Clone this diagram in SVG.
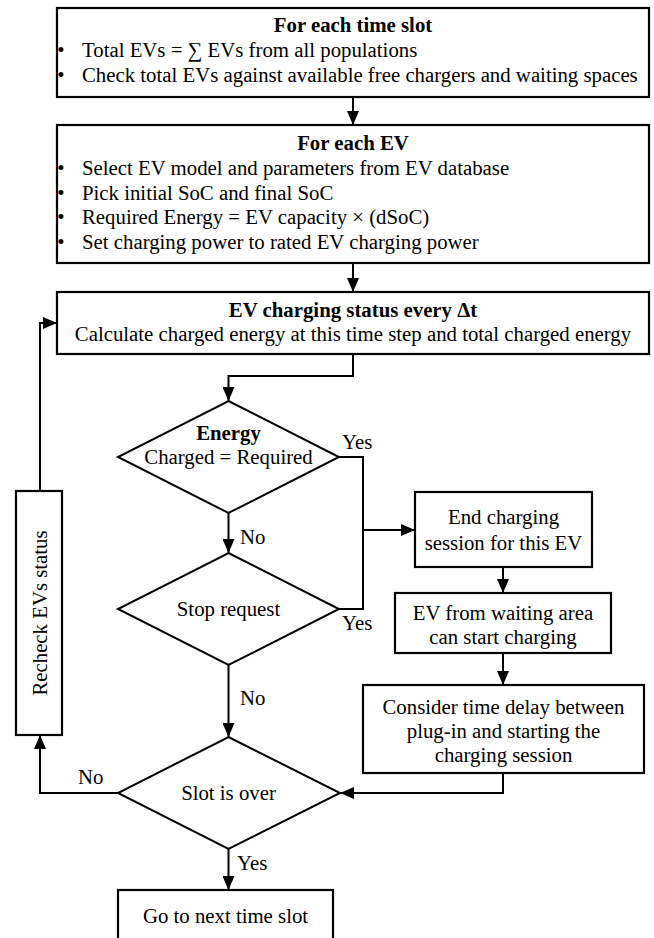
<svg xmlns="http://www.w3.org/2000/svg" width="654" height="938" viewBox="0 0 654 938">
<style>
.box{fill:#fff;stroke:#000;stroke-width:2.2}
.dia{fill:#fff;stroke:#000;stroke-width:2}
.ln{fill:none;stroke:#000;stroke-width:2}
text{font-family:"Liberation Serif","Times New Roman",serif;font-size:20.8px;fill:#000}
.c{text-anchor:middle}
.b{font-weight:bold}
</style>
<defs>
<marker id="ah" markerUnits="userSpaceOnUse" markerWidth="14" markerHeight="12" refX="14" refY="6" orient="auto">
<path d="M0,0 L14,6 L0,12 z" fill="#000"/>
</marker>
</defs>
<rect width="654" height="938" fill="#fff"/>
<g id="connectors">
<path class="ln" d="M353,97 V125" marker-end="url(#ah)"/>
<path class="ln" d="M353,263 V292" marker-end="url(#ah)"/>
<path class="ln" d="M353,354 V376 H228.5 V401" marker-end="url(#ah)"/>
<path class="ln" d="M339,457 H363 V609 H339"/>
<path class="ln" d="M363,530 H415" marker-end="url(#ah)"/>
<path class="ln" d="M228.5,513 V553" marker-end="url(#ah)"/>
<path class="ln" d="M228.5,665 V737" marker-end="url(#ah)"/>
<path class="ln" d="M503,567 V593" marker-end="url(#ah)"/>
<path class="ln" d="M503,653 V685" marker-end="url(#ah)"/>
<path class="ln" d="M503,773 V793 H340" marker-end="url(#ah)"/>
<path class="ln" d="M118,793 H40 V735" marker-end="url(#ah)"/>
<path class="ln" d="M40,491 V323 H57" marker-end="url(#ah)"/>
<path class="ln" d="M228.5,849 V890" marker-end="url(#ah)"/>
</g>
<g id="n1">
<rect class="box" x="57" y="8" width="592" height="89"/>
<text class="c b" x="353" y="32">For each time slot</text>
<text class="c" x="61" y="57">•</text>
<text x="82" y="57">Total EVs = ∑ EVs from all populations</text>
<text class="c" x="61" y="82">•</text>
<text x="82" y="82">Check total EVs against available free chargers and waiting spaces</text>
</g>
<g id="n2">
<rect class="box" x="57" y="125" width="592" height="138"/>
<text class="c b" x="353" y="150">For each EV</text>
<text class="c" x="61" y="175">•</text>
<text x="82" y="175">Select EV model and parameters from EV database</text>
<text class="c" x="61" y="200">•</text>
<text x="82" y="200">Pick initial SoC and final SoC</text>
<text class="c" x="61" y="224">•</text>
<text x="82" y="224">Required Energy = EV capacity × (dSoC)</text>
<text class="c" x="61" y="249">•</text>
<text x="82" y="249">Set charging power to rated EV charging power</text>
</g>
<g id="n3">
<rect class="box" x="57" y="292" width="592" height="62"/>
<text class="c b" x="353" y="317">EV charging status every Δt</text>
<text class="c" x="353" y="341">Calculate charged energy at this time step and total charged energy</text>
</g>
<g id="d1">
<polygon class="dia" points="228.5,401 339,457 228.5,513 118,457"/>
<text class="c b" x="228.5" y="440">Energy</text>
<text class="c" x="228.5" y="464">Charged = Required</text>
<text x="342" y="449">Yes</text>
</g>
<g id="d2">
<polygon class="dia" points="228.5,553 339,609 228.5,665 118,609"/>
<text class="c" x="228.5" y="616">Stop request</text>
<text x="342" y="630">Yes</text>
<text x="240" y="544">No</text>
</g>
<g id="d3">
<polygon class="dia" points="228.5,737 340,793 228.5,849 118,793"/>
<text class="c" x="228.5" y="800">Slot is over</text>
<text x="240" y="705">No</text>
<text x="78" y="784">No</text>
<text x="237" y="870">Yes</text>
</g>
<g id="n4">
<rect class="box" x="415" y="492" width="177" height="75"/>
<text class="c" x="503.5" y="524">End charging</text>
<text class="c" x="503.5" y="550">session for this EV</text>
</g>
<g id="n5">
<rect class="box" x="395" y="593" width="216" height="60"/>
<text class="c" x="503" y="620">EV from waiting area</text>
<text class="c" x="503" y="644">can start charging</text>
</g>
<g id="n6">
<rect class="box" x="363" y="685" width="281" height="88"/>
<text class="c" x="503.5" y="714">Consider time delay between</text>
<text class="c" x="503.5" y="738">plug-in and starting the</text>
<text class="c" x="503.5" y="762">charging session</text>
</g>
<g id="n7">
<rect class="box" x="16" y="491" width="46" height="244"/>
<text class="c" transform="translate(47,613) rotate(-90)">Recheck EVs status</text>
</g>
<g id="n8">
<rect class="box" x="118" y="890" width="215" height="60"/>
<text class="c" x="225.5" y="923">Go to next time slot</text>
</g>
</svg>
